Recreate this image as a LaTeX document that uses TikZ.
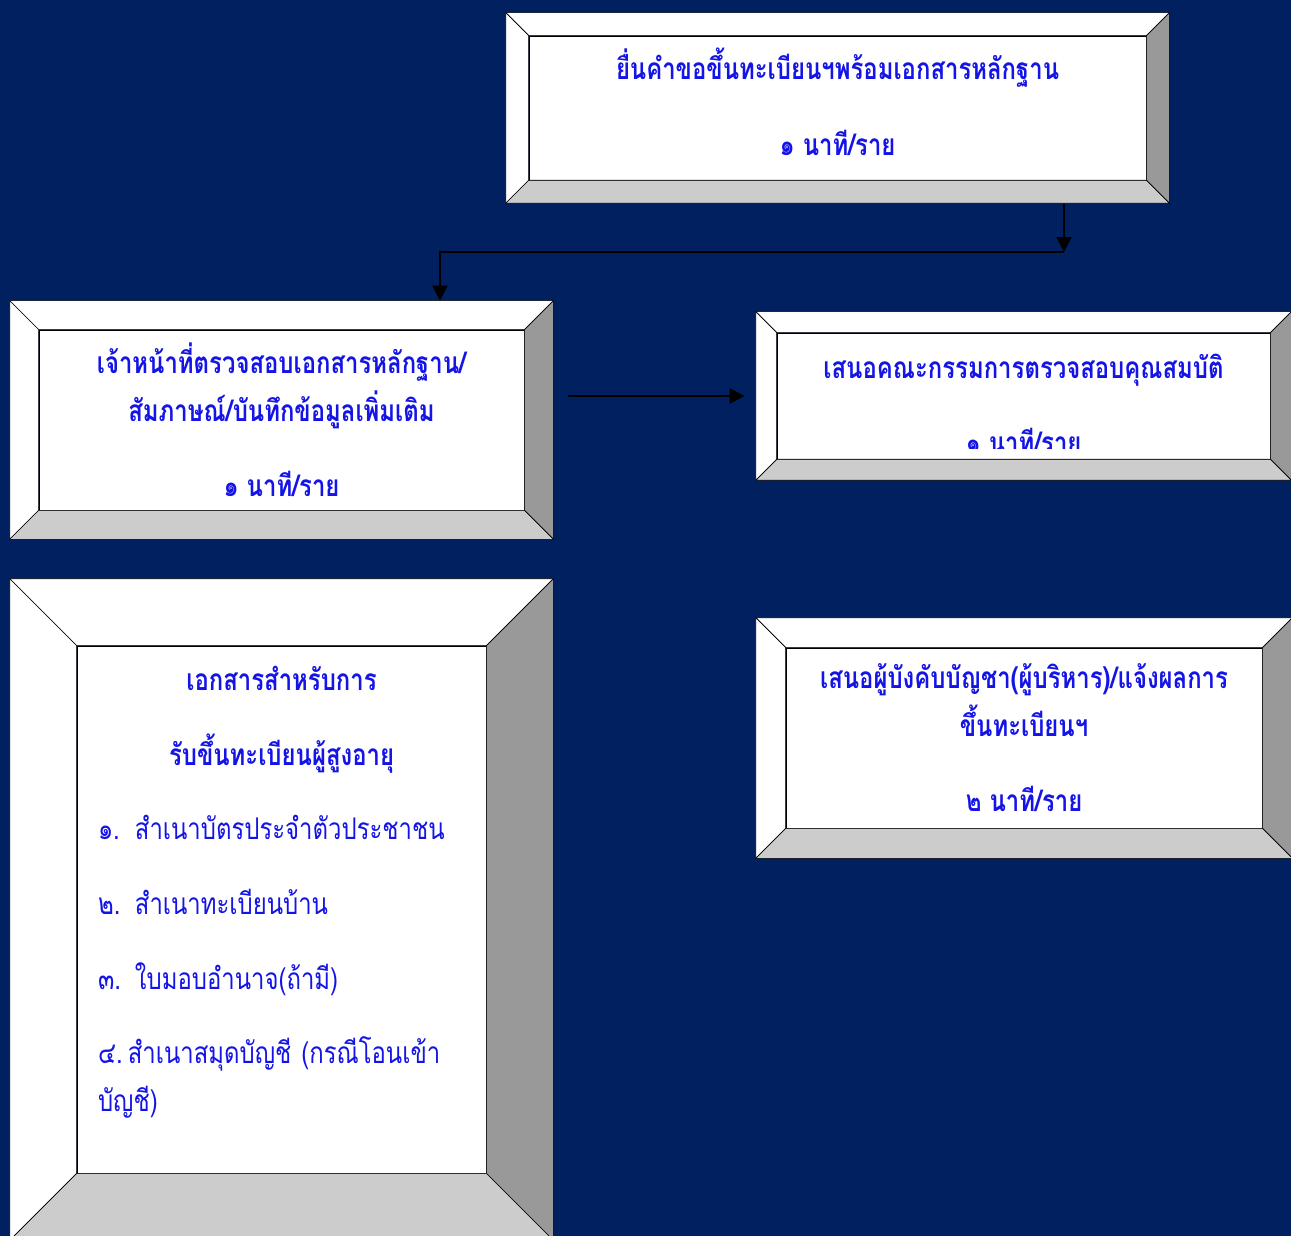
\documentclass[tikz,border=0pt]{standalone}
\usepackage{fontspec}
\newfontfamily\thaifont[Script=Thai, FakeStretch=0.8]{Loma}
\usetikzlibrary{arrows.meta,calc,backgrounds}

\definecolor{navy}{RGB}{0,32,96}
\definecolor{txtblue}{RGB}{20,20,230}
\definecolor{bevright}{RGB}{153,153,153}
\definecolor{bevbottom}{RGB}{204,204,204}

% bevel round an inner box node: #1 node, #2 bevel width
\newcommand{\bevelframe}[2]{%
  \filldraw[fill=white] (#1.north west) -- ++(-#2,-#2) -- ($(#1.north east)+(#2,-#2)$) -- (#1.north east) -- cycle;
  \filldraw[fill=white] (#1.north west) -- ++(-#2,-#2) -- ($(#1.south west)+(-#2,#2)$) -- (#1.south west) -- cycle;
  \filldraw[fill=bevright] (#1.north east) -- ++(#2,-#2) -- ($(#1.south east)+(#2,#2)$) -- (#1.south east) -- cycle;
  \filldraw[fill=bevbottom] (#1.south west) -- ++(-#2,#2) -- ($(#1.south east)+(#2,#2)$) -- (#1.south east) -- cycle;
}

\begin{document}
\begin{tikzpicture}[x=0.02cm, y=-0.02cm, line width=1.2pt, line join=miter,
  innerbox/.style 2 args={draw, fill=white, minimum width=#1*0.02cm, minimum height=#2*0.02cm, inner sep=0pt},
  boxtext/.style={text=txtblue, align=center, font=\thaifont\bfseries\fontsize{17}{27}\selectfont},
  arrow/.style={-{Triangle[length=8.5pt,width=8.5pt]}, line width=1.2pt}
]
  \useasboundingbox (0,0) rectangle (1291,1236);
  \begin{pgfonlayer}{background}
    \fill[navy] (0,0) rectangle (1291,1236);
  \end{pgfonlayer}

  % boxes
  \node[innerbox={617}{144}, boxtext] (boxa) at (837.5,108) {ยื่นคำขอขึ้นทะเบียนฯพร้อมเอกสารหลักฐาน\\[16pt]๑ นาที/ราย\rule[-7pt]{0pt}{0pt}};
  \node[innerbox={485}{180}, boxtext] (boxb) at (281.5,420) {เจ้าหน้าที่ตรวจสอบเอกสารหลักฐาน/\\สัมภาษณ์/บันทึกข้อมูลเพิ่มเติม\\[16pt]๑ นาที/ราย};
  \node[innerbox={493}{126}] (boxc) at (1023.5,396) {};
  \node[innerbox={476}{180}, boxtext] (boxd) at (1024,738) {เสนอผู้บังคับบัญชา(ผู้บริหาร)/แจ้งผลการ\\ขึ้นทะเบียนฯ\\[16pt]๒ นาที/ราย};
  \node[innerbox={409}{527}] (boxe) at (281.5,909.5) {};

  \bevelframe{boxa}{23}
  \bevelframe{boxb}{29}
  \bevelframe{boxc}{21}
  \bevelframe{boxd}{30}
  \bevelframe{boxe}{67}

  % text of box c runs past its lower edge
  \begin{scope}
    \clip (boxc.north west) rectangle ([yshift=0.22cm]boxc.south east);
    \node[boxtext] (textc) at (1023.5,404) {เสนอคณะกรรมการตรวจสอบคุณสมบัติ\\[16pt]๑ นาที/ราย};
  \end{scope}

  \node[text=txtblue, text width=7.34cm, inner sep=0pt, font=\thaifont\fontsize{17}{27}\selectfont] (texte) at (281.5,892) {%
    \parindent=0pt
    {\centering\bfseries เอกสารสำหรับการ\\[16pt]รับขึ้นทะเบียนผู้สูงอายุ\par}
    \vspace{15pt}\raggedright
    \makebox[21pt][l]{๑.}สำเนาบัตรประจำตัวประชาชน\\[15.5pt]
    \makebox[21pt][l]{๒.}สำเนาทะเบียนบ้าน\\[15.5pt]
    \makebox[21pt][l]{๓.}ใบมอบอำนาจ(ถ้ามี)\\[15.5pt]
    \makebox[17pt][l]{๔.}สำเนาสมุดบัญชี (กรณีโอนเข้า\\บัญชี)\par};

  % connectors
  \coordinate (bend) at (1064,252);
  \coordinate (drop) at (440,252);
  \begin{pgfonlayer}{background}
    \draw[arrow] (boxa.south -| bend) -- (bend);
    \draw[arrow, shorten >=0.58cm] (bend) -- (drop) -- (drop |- boxb.north);
    \draw[arrow, shorten <=0.88cm, shorten >=0.64cm] (boxb.east |- boxc.west) -- (boxc.west);
  \end{pgfonlayer}
\end{tikzpicture}
\end{document}
